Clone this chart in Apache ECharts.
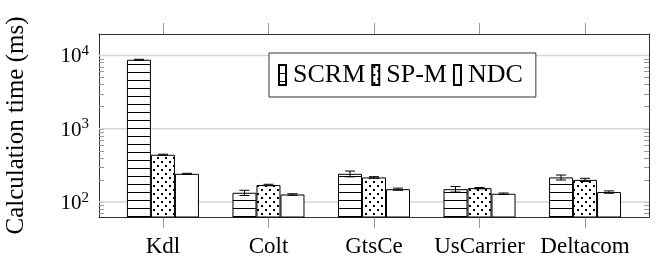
<!DOCTYPE html>
<html>
<head>
<meta charset="utf-8">
<script src="https://cdn.jsdelivr.net/npm/echarts@6/dist/echarts.min.js"></script>
<style>
  html, body { margin: 0; padding: 0; background: #fff; }
  #chart { width: 665px; height: 258px; }
</style>
</head>
<body>
<div id="chart"></div>
<script>
// data
const categories = ['Kdl', 'Colt', 'GtsCe', 'UsCarrier', 'Deltacom'];
const scrm = [8735, 134, 243, 150, 217];
const scrmErr = [150, 11, 22, 13, 17];
const spm = [442, 171, 217, 155, 201];
const spmErr = [8, 4, 5, 3, 10];
const ndc = [243, 127, 150, 130, 137];
const ndcErr = [4, 3, 5, 3, 5];
const majorTicks = [100, 1000, 10000];
const minorTicks = [70, 80, 90, 200, 300, 400, 500, 600, 700, 800, 900,
  2000, 3000, 4000, 5000, 6000, 7000, 8000, 9000];

const FONT = '"Liberation Serif", "Times New Roman", serif';
const yMin = 62.6, yMax = 19630;
const xMin = -0.606, xMax = 4.606;
const catPos = categories.map((c, i) => i);
const allTicks = majorTicks.concat(minorTicks);

// fill patterns
function makePattern(kind) {
  const c = document.createElement('canvas');
  c.width = 8; c.height = 8;
  const ctx = c.getContext('2d');
  ctx.fillStyle = '#fff';
  ctx.fillRect(0, 0, 8, 8);
  ctx.fillStyle = '#000';
  if (kind === 'lines') {
    ctx.fillRect(0, 0, 8, 1);
  } else if (kind === 'dots') {
    ctx.fillRect(1, 1, 2, 2);
    ctx.fillRect(5, 5, 2, 2);
  }
  return { image: c, repeat: 'repeat' };
}

const chart = echarts.init(document.getElementById('chart'));

function barSeries(name, values, fill) {
  return {
    type: 'bar',
    name: name,
    barWidth: 24,
    barGap: '0%',
    data: values.map((v, i) => [i, v]),
    itemStyle: { color: fill, borderColor: '#000', borderWidth: 1 },
    emphasis: { disabled: true },
    silent: true,
    z: 2
  };
}

function errorSeries(values, errs, offset) {
  return {
    type: 'custom',
    silent: true,
    data: values.map((v, i) => [i, v - errs[i], v + errs[i]]),
    encode: { x: 0, y: [1, 2] },
    z: 5,
    renderItem: function (params, api) {
      const x = api.value(0);
      const lo = api.coord([x, api.value(1)]);
      const hi = api.coord([x, api.value(2)]);
      const cx = lo[0] + offset;
      const hw = 5;
      const style = { stroke: '#000', lineWidth: 1 };
      return {
        type: 'group',
        children: [
          { type: 'line', shape: { x1: cx, y1: lo[1], x2: cx, y2: hi[1] }, style: style },
          { type: 'line', shape: { x1: cx - hw, y1: lo[1], x2: cx + hw, y2: lo[1] }, style: style },
          { type: 'line', shape: { x1: cx - hw, y1: hi[1], x2: cx + hw, y2: hi[1] }, style: style }
        ]
      };
    }
  };
}

// horizontal grid lines at the major decades, behind the bars
const gridLineSeries = {
  type: 'custom',
  silent: true,
  z: 1,
  data: majorTicks.map(v => [xMin, v]),
  encode: { x: 0, y: 1 },
  renderItem: function (params, api) {
    const cs = params.coordSys;
    const p = api.coord([api.value(0), api.value(1)]);
    return {
      type: 'line',
      shape: { x1: cs.x, y1: p[1], x2: cs.x + cs.width, y2: p[1] },
      style: { stroke: '#d6d6d6', lineWidth: 1.5 }
    };
  }
};

const frameLine = { show: true, onZero: false, lineStyle: { color: '#333', width: 1 } };
const tickStyle = { color: '#999' };

const option = {
  animation: false,
  textStyle: { fontFamily: FONT, color: '#000' },
  grid: { left: 99, right: 16, top: 34, bottom: 41, outerBoundsMode: 'none', containLabel: false },
  legend: {
    data: ['SCRM', 'SP-M', 'NDC'],
    left: 269,
    top: 53,
    icon: 'rect',
    itemWidth: 7,
    itemHeight: 20,
    itemGap: 6,
    padding: [9, 13, 9, 9],
    borderColor: '#333',
    borderWidth: 1,
    backgroundColor: '#fff',
    textStyle: { fontFamily: FONT, fontSize: 26, color: '#000', padding: [0, 0, 0, 2] }
  },
  xAxis: [
    {
      type: 'value', position: 'bottom', min: xMin, max: xMax,
      axisLine: frameLine,
      axisTick: { show: true, customValues: catPos, inside: false, length: 11, lineStyle: tickStyle },
      axisLabel: {
        customValues: catPos, margin: 18,
        formatter: v => categories[Math.round(v)],
        fontFamily: FONT, fontSize: 23, color: '#000'
      },
      splitLine: { show: false }
    },
    {
      type: 'value', position: 'top', min: xMin, max: xMax,
      axisLine: frameLine,
      axisTick: { show: true, customValues: catPos, inside: false, length: 11, lineStyle: tickStyle },
      axisLabel: { show: false },
      splitLine: { show: false }
    }
  ],
  yAxis: [
    {
      type: 'log', logBase: 10, min: yMin, max: yMax,
      position: 'left',
      name: 'Calculation time (ms)',
      nameLocation: 'middle',
      nameGap: 70,
      nameTextStyle: { fontFamily: FONT, fontSize: 25, color: '#000' },
      axisLine: frameLine,
      axisTick: { show: true, customValues: allTicks, inside: true, length: 5, lineStyle: tickStyle },
      axisLabel: {
        customValues: majorTicks,
        margin: 10,
        fontFamily: FONT,
        formatter: v => '{b|10}{s|' + Math.round(Math.log10(v)) + '}',
        rich: {
          b: { fontFamily: FONT, fontSize: 21, color: '#000', lineHeight: 24, verticalAlign: 'bottom' },
          s: { fontFamily: FONT, fontSize: 15, color: '#000', lineHeight: 15, verticalAlign: 'top' }
        }
      },
      splitLine: { show: false }
    },
    {
      type: 'log', logBase: 10, min: yMin, max: yMax,
      position: 'right',
      axisLine: frameLine,
      axisTick: { show: true, customValues: allTicks, inside: true, length: 5, lineStyle: tickStyle },
      axisLabel: { show: false },
      splitLine: { show: false }
    }
  ],
  series: [
    gridLineSeries,
    barSeries('SCRM', scrm, makePattern('lines')),
    barSeries('SP-M', spm, makePattern('dots')),
    barSeries('NDC', ndc, makePattern('none')),
    errorSeries(scrm, scrmErr, -24),
    errorSeries(spm, spmErr, 0),
    errorSeries(ndc, ndcErr, 24)
  ]
};

chart.setOption(option);
</script>
</body>
</html>
